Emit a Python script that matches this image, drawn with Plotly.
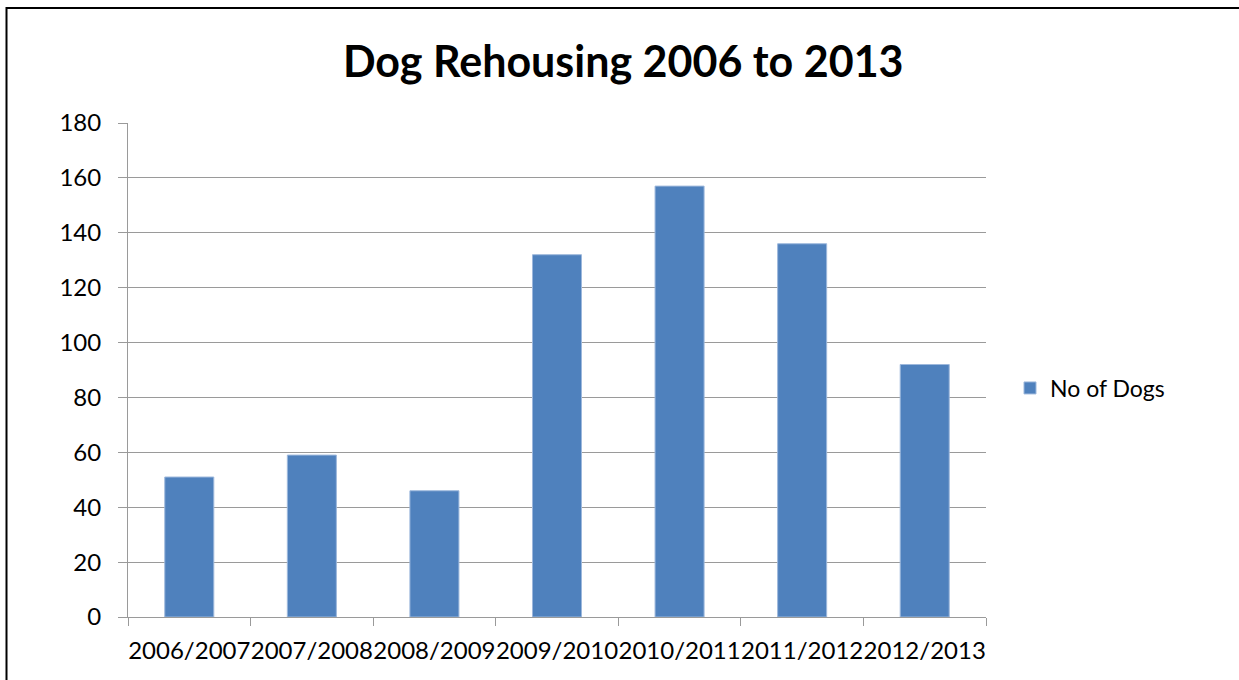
import plotly.graph_objects as go

# Dogs rehoused per season
seasons = ["2006/2007", "2007/2008", "2008/2009", "2009/2010",
           "2010/2011", "2011/2012", "2012/2013"]
dogs = [51, 59, 46, 132, 157, 136, 92]
series_name = "No of Dogs"
title_text = "Dog Rehousing 2006 to 2013"

FONT = "Lato"
BAR = "#4F81BD"
GRID = "#9a9a9a"

W, H = 1239, 680
ml, mr, mt, mb = 128, 253, 123, 63
pw, ph = W - ml - mr, H - mt - mb


def px_x(x):
    return (x - ml) / pw


def px_y(y):
    return (H - mb - y) / ph


fig = go.Figure(go.Bar(
    x=seasons, y=dogs, name=series_name,
    marker=dict(color=BAR, line=dict(color="#9db8dc", width=1)),
    width=0.4, showlegend=True,
))

fig.update_layout(
    width=W, height=H,
    margin=dict(l=ml, r=mr, t=mt, b=mb, autoexpand=False),
    paper_bgcolor="white", plot_bgcolor="white",
    font=dict(family=FONT, color="#000000", size=23),
    title=dict(text="<b>" + title_text + "</b>", x=0.503, xanchor="center",
               y=1 - 62 / H, yanchor="middle",
               font=dict(family=FONT, size=43, color="#000000")),
    legend=dict(x=px_x(1010), y=px_y(388), xanchor="left", yanchor="middle",
                font=dict(family=FONT, size=23, color="#000000"),
                itemwidth=30, bgcolor="rgba(0,0,0,0)"),
    xaxis=dict(type="category", tickson="boundaries", ticks="outside",
               ticklen=8, tickcolor=GRID, showline=True, linecolor=GRID,
               linewidth=1, showgrid=False, tickangle=0, automargin=False,
               ticklabelstandoff=12,
               tickfont=dict(family=FONT, size=24, color="#000000")),
    yaxis=dict(range=[0, 180], dtick=20, ticks="outside", ticklen=9,
               tickcolor=GRID, showline=True, linecolor=GRID, linewidth=1,
               showgrid=True, gridcolor=GRID, gridwidth=1, automargin=False,
               zeroline=False, ticklabelstandoff=12,
               tickfont=dict(family=FONT, size=24, color="#000000")),
    shapes=[dict(type="rect", xref="paper", yref="paper",
                 x0=px_x(6.5), x1=px_x(W + 10), y0=px_y(H + 10), y1=px_y(8),
                 line=dict(color="#000000", width=2), layer="below")],
)

fig.write_html("out.html")
